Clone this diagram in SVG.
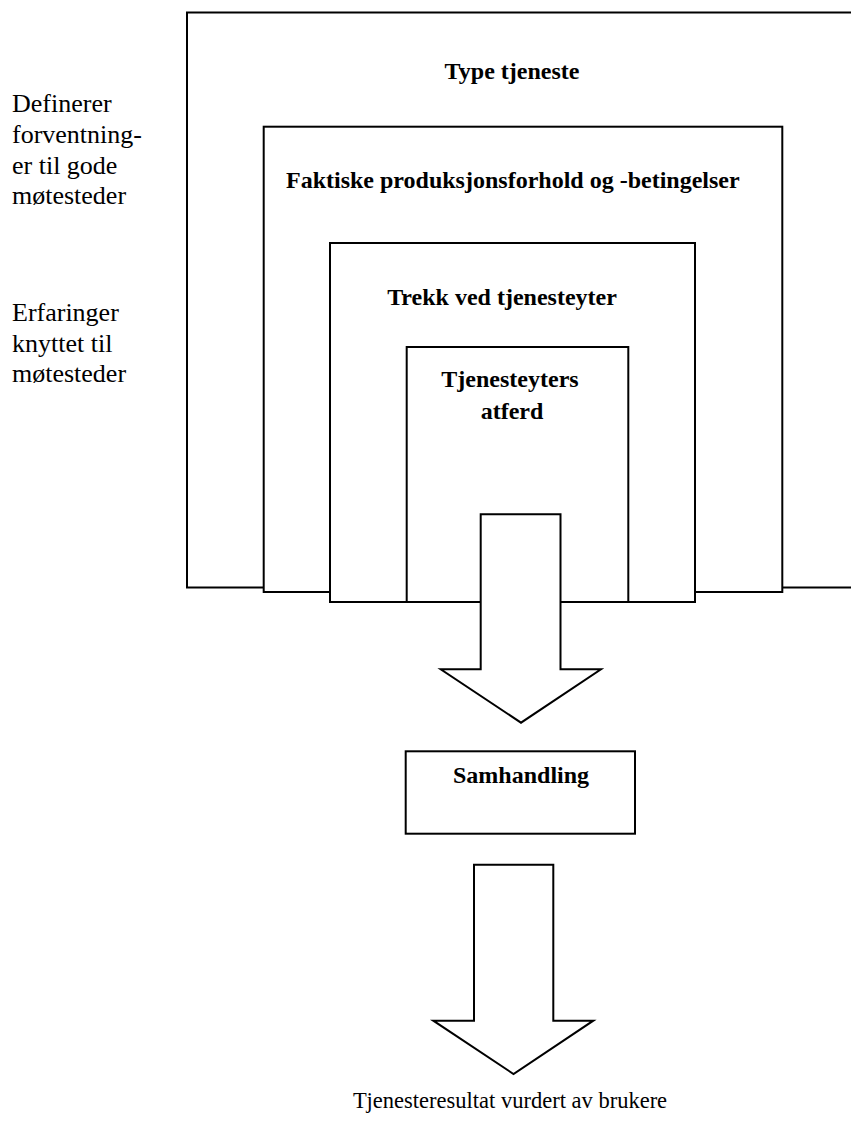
<svg xmlns="http://www.w3.org/2000/svg" width="851" height="1143" viewBox="0 0 851 1143">
<style>
.box{fill:#fff;stroke:#000;stroke-width:2}
.arrow{fill:#fff;stroke:#000;stroke-width:2;stroke-linejoin:miter}
.title{font-weight:bold;font-size:24px;fill:#000}
.side{font-size:26px;fill:#000}
.result{font-size:22.5px;fill:#000}
</style>
<rect width="851" height="1143" fill="#fff"/>
<g id="side-labels" font-family="Liberation Serif, Times New Roman, serif">
<text class="side" x="12" y="112">Definerer</text>
<text class="side" x="12" y="143">forventning-</text>
<text class="side" x="12" y="173.5">er til gode</text>
<text class="side" x="12" y="204">møtesteder</text>
<text class="side" x="12" y="321">Erfaringer</text>
<text class="side" x="12" y="351.5">knyttet til</text>
<text class="side" x="12" y="382">møtesteder</text>
</g>
<g id="type-tjeneste" font-family="Liberation Serif, Times New Roman, serif">
<rect class="box" x="187" y="12.5" width="700" height="575"/>
<text class="title" x="512" y="79" text-anchor="middle">Type tjeneste</text>
</g>
<g id="faktiske" font-family="Liberation Serif, Times New Roman, serif">
<rect class="box" x="263.7" y="126.7" width="518.6" height="465.3"/>
<text class="title" x="286" y="188.3">Faktiske produksjonsforhold og -betingelser</text>
</g>
<g id="trekk" font-family="Liberation Serif, Times New Roman, serif">
<rect class="box" x="330" y="243" width="365" height="359"/>
<text class="title" x="502" y="305" text-anchor="middle">Trekk ved tjenesteyter</text>
</g>
<g id="atferd" font-family="Liberation Serif, Times New Roman, serif">
<rect class="box" x="406.7" y="347" width="221.6" height="255"/>
<text class="title" x="510" y="387" text-anchor="middle">Tjenesteyters</text>
<text class="title" x="512" y="419" text-anchor="middle">atferd</text>
</g>
<g id="connectors">
<polygon class="arrow" points="480.7,514.3 560.5,514.3 560.5,669.3 601,669.3 521,722.7 440.7,669.3 480.7,669.3"/>
<polygon class="arrow" points="474,864.7 553.3,864.7 553.3,1020.7 593.3,1020.7 513.5,1074 433.3,1020.7 474,1020.7"/>
</g>
<g id="samhandling" font-family="Liberation Serif, Times New Roman, serif">
<rect class="box" x="405.7" y="751.3" width="229.3" height="82.4"/>
<text class="title" x="453" y="783.3">Samhandling</text>
</g>
<g id="resultat" font-family="Liberation Serif, Times New Roman, serif">
<text class="result" x="510" y="1108" text-anchor="middle">Tjenesteresultat vurdert av brukere</text>
</g>
</svg>
